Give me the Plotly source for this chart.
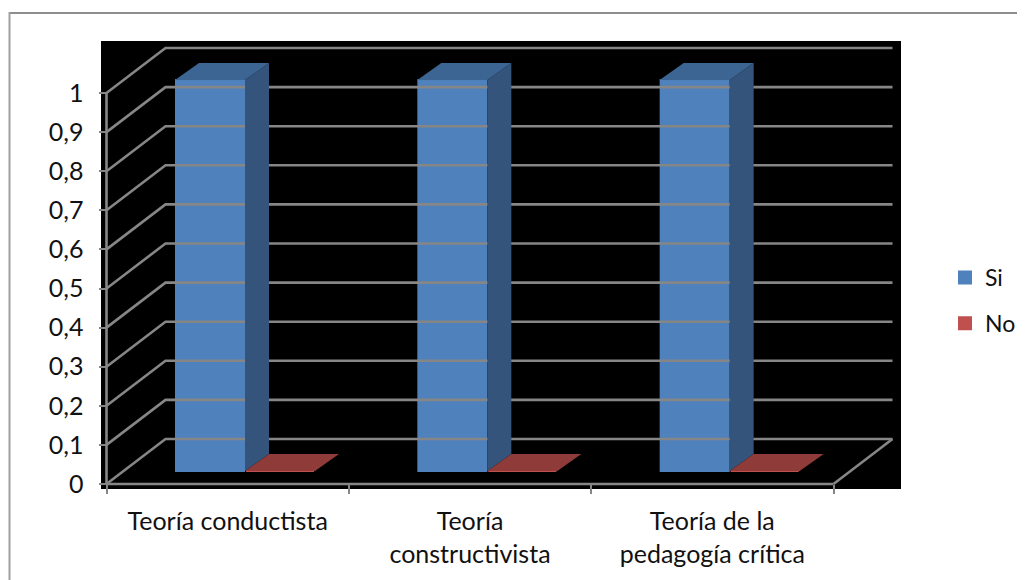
import plotly.graph_objects as go

categories = ["Teoría conductista", "Teoría constructivista", "Teoría de la pedagogía crítica"]
category_labels = ["Teoría conductista", "Teoría<br>constructivista", "Teoría de la<br>pedagogía crítica"]
si_values = [1, 1, 1]
no_values = [0, 0, 0]
y_ticks = [0, 0.1, 0.2, 0.3, 0.4, 0.5, 0.6, 0.7, 0.8, 0.9, 1]
y_tick_labels = ["0", "0,1", "0,2", "0,3", "0,4", "0,5", "0,6", "0,7", "0,8", "0,9", "1"]

OFF = 8                              # the page body adds this margin
W, H = 1025 - OFF, 580 - OFF
PL, PR, PT, PB = 101 - OFF, 901 - OFF, 41 - OFF, 489 - OFF   # black panel = plot area
L, R, B, T = 106.5 - OFF, 833.5 - OFF, 484 - OFF, 93 - OFF   # front plane of the 3D box
cat_w = (R - L) / 3
px_x = 1 / cat_w                     # data units per pixel
px_y = 1 / (B - T)

# Oblique projection
wall_dx, wall_dy = 59 * px_x, 45 * px_y
bar_dx, bar_dy = 24 * px_x, 17 * px_y
base_dx, base_dy = 17 * px_x, 13 * px_y
bar_w = 70 * px_x
first_left = (175 - OFF - L) * px_x - 0.5   # left edge of the Si bar in category 0

x_range = [-0.5 + (PL - L) * px_x, -0.5 + (PR - L) * px_x]
y_range = [(B - PB) * px_y, (B - PT) * px_y]

GRID = "#868686"
FONT = "Lato, Carlito, Calibri, sans-serif"
FS = 25

# Grid lines: front-left -> back-left -> back-right
gx, gy = [], []
for v in y_ticks:
    gx += [-0.5, -0.5 + wall_dx, 2.5 + wall_dx, None]
    gy += [v, v + wall_dy, v + wall_dy, None]
# right floor edge, value axis, category axis
gx += [2.5, 2.5 + wall_dx, None, -0.5, -0.5, None, -0.5, 2.5]
gy += [0, wall_dy, None, 0, 1, None, 0, 0]

fig = go.Figure()
fig.add_trace(go.Scatter(x=gx, y=gy, mode="lines", line=dict(color=GRID, width=2.6),
                         showlegend=False, hoverinfo="skip"))

si_lefts = [i + first_left for i in range(len(categories))]
no_lefts = [x + bar_w for x in si_lefts]

fig.add_trace(go.Bar(x=[x + bar_w / 2 for x in si_lefts], y=si_values, base=base_dy,
                     width=bar_w - 2 * px_x, name="Si",
                     marker=dict(color="#4F81BD", line=dict(width=2, color="#4F81BD")),
                     legendgroup="si"))
fig.add_trace(go.Bar(x=[x + bar_w / 2 for x in no_lefts], y=no_values, base=base_dy,
                     width=bar_w - 2 * px_x, name="No",
                     marker=dict(color="#C0504D", line=dict(width=2, color="#C0504D")),
                     legendgroup="no"))

def poly(xs, ys, color):
    fig.add_trace(go.Scatter(x=xs, y=ys, mode="lines", fill="toself", fillcolor=color,
                             line=dict(width=0, color=color), showlegend=False,
                             hoverinfo="skip"))

for x0, v in zip(si_lefts, si_values):
    x1 = x0 + bar_w
    top = base_dy + v
    poly([x1, x1 + bar_dx, x1 + bar_dx, x1, x1],
         [base_dy, base_dy + bar_dy, top + bar_dy, top, base_dy], "#34547C")
    poly([x0, x0 + bar_dx, x1 + bar_dx, x1, x0],
         [top, top + bar_dy, top + bar_dy, top, top], "#3D6594")

for x0, v in zip(no_lefts, no_values):
    x1 = x0 + bar_w
    top = base_dy + v
    poly([x0, x0 + bar_dx, x1 + bar_dx, x1, x0],
         [top, top + bar_dy, top + bar_dy, top, top], "#8F3B39")

to_px = lambda px: (px - OFF - PL) / (PR - PL)
to_py = lambda py: (PB - (py - OFF)) / (PB - PT)

shapes = [
    dict(type="line", xref="paper", yref="paper", layer="below",
         x0=to_px(9), x1=to_px(1025), y0=to_py(13), y1=to_py(13),
         line=dict(color="#8E8E8E", width=2)),
    dict(type="line", xref="paper", yref="paper", layer="below",
         x0=to_px(9.5), x1=to_px(9.5), y0=to_py(12), y1=to_py(580),
         line=dict(color="#A0A0A0", width=2)),
]

fig.update_layout(
    width=W, height=H, autosize=False,
    margin=dict(l=PL, r=W - PR, t=PT, b=H - PB, pad=0, autoexpand=False),
    paper_bgcolor="white", plot_bgcolor="black",
    font=dict(family=FONT, size=FS, color="#111111"),
    barmode="overlay", shapes=shapes,
    xaxis=dict(range=x_range, domain=[0, 1], anchor="free", position=(PB - B) / (PB - PT),
               showgrid=False, zeroline=False, showline=False,
               tickmode="array", tickvals=[0, 1, 2], ticktext=category_labels,
               ticks="", ticklabelstandoff=20,
               minor=dict(tickmode="array", tickvals=[-0.5, 0.5, 1.5, 2.5], ticks="outside",
                          ticklen=9, tickwidth=2, tickcolor=GRID, showgrid=False),
               tickfont=dict(family=FONT, size=FS), fixedrange=True),
    yaxis=dict(range=y_range, domain=[0, 1], anchor="free", position=(L - PL) / (PR - PL),
               showgrid=False, zeroline=False, showline=False,
               tickmode="array", tickvals=y_ticks, ticktext=y_tick_labels,
               ticks="outside", ticklen=8, tickwidth=2, tickcolor=GRID, ticklabelstandoff=10,
               tickfont=dict(family=FONT, size=25), fixedrange=True),
    showlegend=True,
    legend=dict(x=to_px(945), y=to_py(256), xanchor="left", yanchor="top",
                tracegroupgap=13, bgcolor="rgba(0,0,0,0)",
                font=dict(family=FONT, size=23)),
)

fig.write_html("out.html", config=dict(displayModeBar=False))
